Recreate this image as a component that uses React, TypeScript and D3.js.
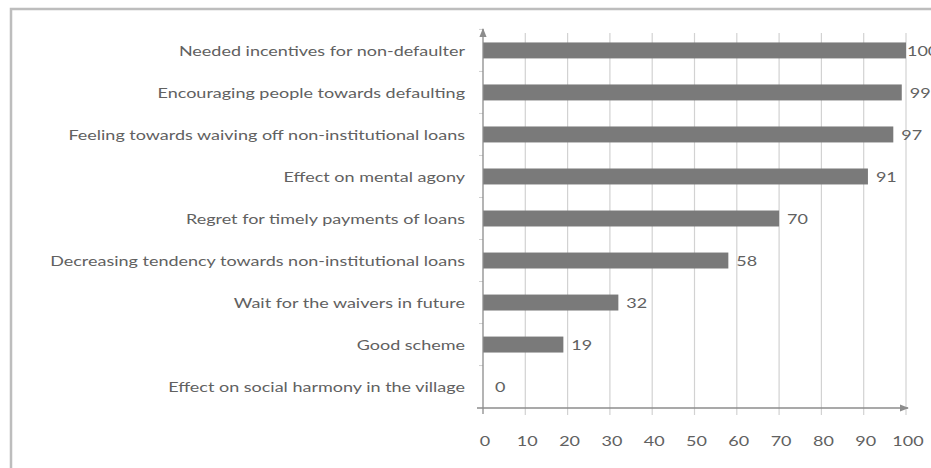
import React from "react";
import * as d3 from "d3";

const categories = [
  "Needed incentives for non-defaulter",
  "Encouraging people towards defaulting",
  "Feeling towards waiving off non-institutional loans",
  "Effect on mental agony",
  "Regret for timely payments of loans",
  "Decreasing tendency towards non-institutional loans",
  "Wait for the waivers in future",
  "Good scheme",
  "Effect on social harmony in the village",
];
const values = [100, 99, 97, 91, 70, 58, 32, 19, 0];
const xTicks = [0, 10, 20, 30, 40, 50, 60, 70, 80, 90, 100];

const W = 931;
const H = 468;
const x0 = 483;
const x1 = 906;
const yTop = 29;
const yAxis = 408;
const SX = 1.285;

function T({ x, y, anchor = "start", children }: { x: number; y: number; anchor?: string; children: any }) {
  return (
    <text
      transform={`translate(${x},${y}) scale(${SX},1)`}
      textAnchor={anchor}
      dominantBaseline="central"
      fontFamily="Lato, 'Open Sans', sans-serif"
      fontSize={14}
      fill="#616161"
    >
      {children}
    </text>
  );
}

export default function App() {
  const x = d3.scaleLinear().domain([0, 100]).range([x0, x1]);
  const y = d3
    .scaleBand()
    .domain(categories)
    .range([yTop, yAxis])
    .paddingInner(0.62)
    .paddingOuter(0.32);
  return (
    <svg
      width={W}
      height={H}
      style={{ position: "absolute", left: 0, top: 0, background: "#fff" }}
    >
      <defs>
        <marker id="arr" viewBox="0 0 10 10" refX="9" refY="5" markerWidth="7" markerHeight="7" orient="auto">
          <path d="M0,1 L10,5 L0,9 Z" fill="#8c8c8c" />
        </marker>
      </defs>
      <rect x={11} y={9} width={W + 10} height={H + 10} fill="none" stroke="#bdbdbd" strokeWidth={2.5} />
      {xTicks.slice(1).map((t) => (
        <line key={t} x1={x(t)} x2={x(t)} y1={yTop + 4} y2={yAxis + 7} stroke="#d2d2d2" strokeWidth={1.2} />
      ))}
      {categories.map((c, i) => (
        <line key={"yt" + i} x1={x0 - 4} x2={x0} y1={(y(c) as number) - (y.step() * 0.62) / 2} y2={(y(c) as number) - (y.step() * 0.62) / 2} stroke="#cfcfcf" />
      ))}
      {categories.map((c, i) => (
        <rect key={c} x={x(0)} y={y(c)} width={x(values[i]) - x(0)} height={y.bandwidth()} fill="#7a7a7a" />
      ))}
      <line x1={x0} x2={x0} y1={yAxis + 6} y2={yTop} stroke="#8c8c8c" strokeWidth={1.3} markerEnd="url(#arr)" />
      <line x1={x0 - 6} x2={x1 + 2} y1={yAxis} y2={yAxis} stroke="#8c8c8c" strokeWidth={1.3} markerEnd="url(#arr)" />
      {categories.map((c) => (
        <T key={"l" + c} x={465} y={(y(c) as number) + y.bandwidth() / 2} anchor="end">
          {c}
        </T>
      ))}
      {categories.map((c, i) => (
        <T key={"v" + c} x={values[i] === 100 ? x(values[i]) + 1 : x(values[i]) + (values[i] === 0 ? 12 : 8)} y={(y(c) as number) + y.bandwidth() / 2}>
          {values[i]}
        </T>
      ))}
      {xTicks.map((t) => (
        <T key={"t" + t} x={x(t) + 2} y={440} anchor="middle">
          {t}
        </T>
      ))}
    </svg>
  );
}
